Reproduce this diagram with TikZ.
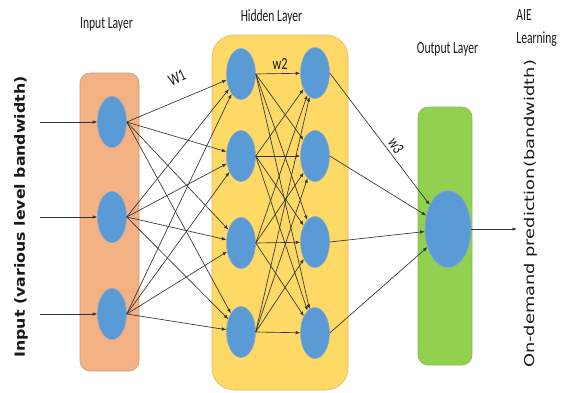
\documentclass[tikz,border=0pt]{standalone}
\usepackage{fontspec}
\setmainfont{Carlito}
\setsansfont{DejaVu Sans}
\usetikzlibrary{shapes.geometric,arrows.meta}

\definecolor{inputfill}{HTML}{F4B183}
\definecolor{inputedge}{HTML}{C99A7A}
\definecolor{hiddenfill}{HTML}{FFD966}
\definecolor{hiddenedge}{HTML}{D9BA6A}
\definecolor{outputfill}{HTML}{92D050}
\definecolor{outputedge}{HTML}{86B860}
\definecolor{neuron}{HTML}{5B9BD5}
\definecolor{neuronedge}{HTML}{7FA8CF}
\definecolor{wire}{HTML}{333333}

\tikzset{
  layerbox/.style={draw=#1edge, fill=#1fill, line width=0.6pt},
  neuronnode/.style={ellipse, fill=neuron, draw=neuronedge, line width=0.5pt,
    minimum width=29pt, minimum height=51pt, inner sep=0pt},
  bigneuron/.style={neuronnode, minimum width=46pt, minimum height=77pt},
  conn/.style={draw=wire, line width=0.65pt, -{Latex[length=4.5pt,width=3.5pt]}},
  title/.style={font=\fontsize{17}{19}\selectfont, text=black!90, xscale=0.68, anchor=base},
  weight/.style={font=\fontsize{17}{19}\selectfont, text=black!90, inner sep=1pt, xscale=0.72},
  caption/.style={rotate=90, text=black!90},
}

\begin{document}
\begin{tikzpicture}[x=1pt,y=-1pt]
  \useasboundingbox (0,0) rectangle (566,392);

  % layer backgrounds
  \node[layerbox=input, rounded corners=10pt, minimum width=59pt, minimum height=298pt,
        inner sep=0pt] (inbox) at (109.5,222) {};
  \node[layerbox=hidden, rounded corners=22pt, minimum width=136pt, minimum height=355pt,
        inner sep=0pt] (hidbox) at (280,212.5) {};
  \node[layerbox=output, rounded corners=10pt, minimum width=54pt, minimum height=258pt,
        inner sep=0pt] (outbox) at (445,236) {};

  % layer titles
  \node[title] (tin) at (106.5,28) {Input Layer};
  \node[title] (thid) at (271.5,21) {Hidden Layer};
  \node[title] (tout) at (447.5,53) {Output Layer};
  \node[title, anchor=base west] (taie) at (514,20) {AIE};
  \node[title, anchor=base west] (tlearn) at (514,43) {Learning};

  % neurons
  \node[neuronnode] (i1) at (112,122) {};
  \node[neuronnode] (i2) at (112,217) {};
  \node[neuronnode] (i3) at (112,314) {};

  \node[neuronnode] (a1) at (241,74) {};
  \node[neuronnode] (a2) at (241,156) {};
  \node[neuronnode] (a3) at (241,243) {};
  \node[neuronnode] (a4) at (241,332) {};

  \node[neuronnode] (b1) at (315,73) {};
  \node[neuronnode] (b2) at (315,156) {};
  \node[neuronnode] (b3) at (315,242) {};
  \node[neuronnode] (b4) at (315,333) {};

  \node[bigneuron] (o) at (448,229) {};

  % incoming signals
  \coordinate (s1) at (40,122);
  \coordinate (s2) at (40,217);
  \coordinate (s3) at (40,314);
  \foreach \k in {1,2,3} \draw[conn] (s\k) -- (i\k);

  % input -> first hidden
  \foreach \p in {1,2,3}
    \foreach \q in {1,2,3,4}
      \draw[conn] (i\p.east) -- (a\q);

  % first hidden -> second hidden
  \foreach \p in {1,2,3,4}
    \foreach \q in {1,2,3,4}
      \draw[conn] (a\p.east) -- (b\q);

  % second hidden -> output
  \foreach \p in {1,2,3,4}
    \draw[conn] (b\p.east) -- (o);

  % prediction out
  \coordinate (pout) at (517,229);
  \draw[conn] (o.east) -- (pout);

  % weight labels
  \node[rotate=25, weight] (w1) at (177,78) {W1};
  \node[weight] (w2) at (280,64) {w2};
  \node[rotate=-58, weight] (w3) at (396,146) {w3};

  % side captions
  \node[caption, font=\sffamily\bfseries\fontsize{14}{16}\selectfont, xscale=1.13]
    (cin) at (21,217) {Input (various level bandwidth)};
  \node[caption, font=\sffamily\fontsize{13.5}{15}\selectfont, xscale=1.32]
    (cout) at (531,214) {On-demand prediction(bandwidth)};
\end{tikzpicture}
\end{document}
